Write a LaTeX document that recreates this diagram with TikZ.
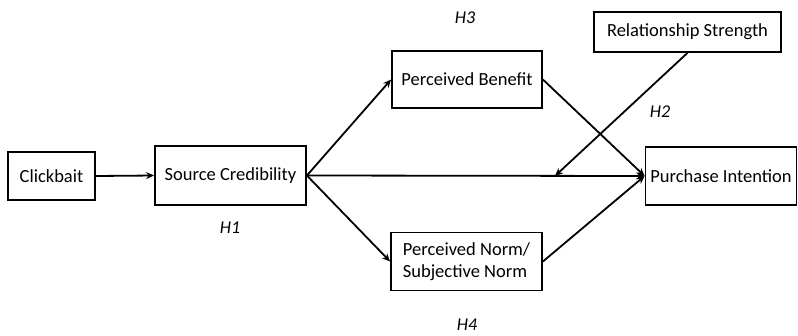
\documentclass[tikz,border=0pt]{standalone}
\usepackage{fontspec}
\setmainfont{Carlito}
\usetikzlibrary{arrows.meta}
\begin{document}
\begin{tikzpicture}[x=1pt,y=-1pt,
  box/.style={draw,line width=1.8pt,inner sep=0pt,anchor=center,font=\fontsize{18.5}{21.5}\selectfont},
  hyp/.style={font=\fontsize{18}{21.5}\selectfont\itshape,inner sep=0pt},
  arr/.style={line width=1.8pt,-{Stealth[length=8pt,width=7pt]}},
  ln/.style={line width=1.8pt}]
\useasboundingbox (0,0) rectangle (798,335);
\node[box,minimum width=87pt,minimum height=48pt] (CB) at (51.5,176) {Clickbait};
\node[box,minimum width=151pt,minimum height=59pt] (SC) at (230.5,175.5) {Source Credibility};
\node[box,minimum width=150pt,minimum height=57pt] (PB) at (467,79.5) {Perceived Benefit};
\node[box,minimum width=187pt,minimum height=40pt] (RS) at (687.5,32) {Relationship Strength};
\node[box,minimum width=151pt,minimum height=58pt] (PI) at (721,176) {Purchase Intention};
\node[box,minimum width=151pt,minimum height=58pt,align=left] (PN) at (466.5,261.5) {Perceived Norm/\\Subjective Norm};
\coordinate (M) at (555,176);
\node[hyp] (H3) at (465,18) {H3};
\node[hyp] (H2) at (660,112) {H2};
\node[hyp] (H1) at (230,228) {H1};
\node[hyp] (H4) at (467,325) {H4};
\draw[arr] (CB.east) -- (SC.west);
\draw[arr] (SC.east) -- (PB.west);
\draw[arr] (SC.east) -- (PN.west);
\draw[arr] (SC.east) -- (PI.west);
\draw[arr] (PB.east) -- (PI.west);
\draw[arr] (PN.east) -- (PI.west);
\draw[arr] (RS.south) -- (M);
\end{tikzpicture}
\end{document}
